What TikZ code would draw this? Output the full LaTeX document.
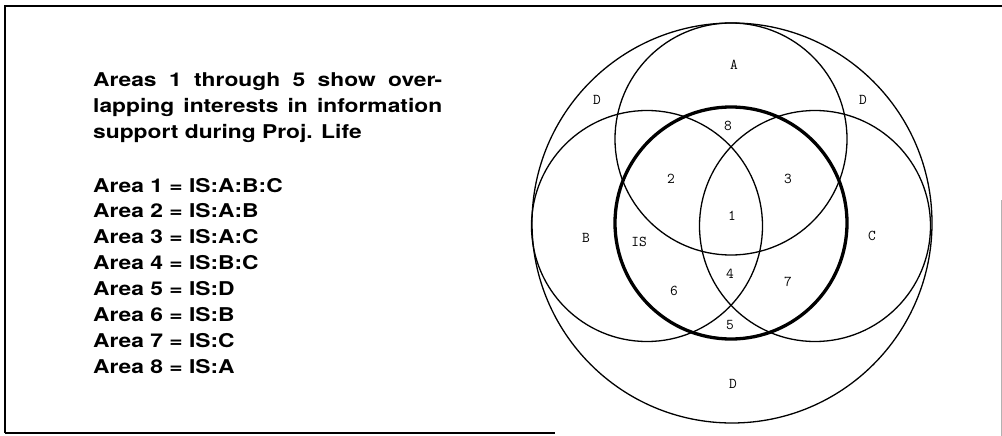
\documentclass[tikz,border=0pt]{standalone}
\usepackage{fontspec}
\newfontfamily\hel[FakeStretch=1.2]{TeX Gyre Heros}
\begin{document}
\begin{tikzpicture}[x=1pt,y=-1pt,
  venn/.style={circle,draw,line width=1.3pt,inner sep=0pt,outer sep=0pt},
  isring/.style={circle,draw,line width=3.3pt,inner sep=0pt,outer sep=0pt},
  lbl/.style={font=\ttfamily\fontsize{15}{15}\selectfont\addfontfeatures{FakeBold=1.2},inner sep=0pt},
  txt/.style={anchor=base west,inner sep=0pt,font=\hel\bfseries\fontsize{19}{26}\selectfont},
  frame/.style={line width=2.4pt}]
\useasboundingbox (0,0) rectangle (1002,436);
% frame
\coordinate (fbl) at (5,433);
\coordinate (ftl) at (5,6);
\coordinate (ftr) at (1002,6);
\coordinate (fbm) at (555,433);
\coordinate (frt) at (1001,200);
\coordinate (frb) at (1001,436);
\draw[frame] (fbl) -- (ftl) -- (ftr);
\draw[frame] (fbl) -- (fbm);
\draw[gray!60,line width=1pt] (frt) -- (frb);
% circles
\node[venn,minimum size=400pt] (D) at (732,223) {};
\node[venn,minimum size=232pt] (A) at (731,139) {};
\node[venn,minimum size=231pt] (B) at (647,226) {};
\node[venn,minimum size=231pt] (C) at (815,226) {};
\node[isring,minimum size=232pt] (IS) at (731,223) {};
% labels
\node[lbl] (lA) at (734,65) {A};
\node[lbl] (lD1) at (597,100) {D};
\node[lbl] (lD2) at (863,100) {D};
\node[lbl] (l8) at (728,126) {8};
\node[lbl] (l2) at (671,179) {2};
\node[lbl] (l3) at (788,179) {3};
\node[lbl] (l1) at (732,216) {1};
\node[lbl] (lB) at (586,238) {B};
\node[lbl] (lIS) at (639,242) {IS};
\node[lbl] (lC) at (872,236) {C};
\node[lbl] (l4) at (730,274) {4};
\node[lbl] (l7) at (788,282) {7};
\node[lbl] (l6) at (674,291) {6};
\node[lbl] (l5) at (730,325) {5};
\node[lbl] (lD3) at (733,384) {D};
% text
\node[txt] (t1) at (93,87) {\makebox[349pt][s]{Areas 1 through 5 show over-}};
\node[txt] (t2) at (93,113) {\makebox[349pt][s]{lapping interests in information}};
\node[txt] (t3) at (93,139) {support during Proj. Life};
\node[txt] (a1) at (93,192) {Area 1 = IS:A:B:C};
\node[txt] (a2) at (93,217.9) {Area 2 = IS:A:B};
\node[txt] (a3) at (93,243.8) {Area 3 = IS:A:C};
\node[txt] (a4) at (93,269.7) {Area 4 = IS:B:C};
\node[txt] (a5) at (93,295.6) {Area 5 = IS:D};
\node[txt] (a6) at (93,321.5) {Area 6 = IS:B};
\node[txt] (a7) at (93,347.4) {Area 7 = IS:C};
\node[txt] (a8) at (93,373.3) {Area 8 = IS:A};
\end{tikzpicture}
\end{document}
